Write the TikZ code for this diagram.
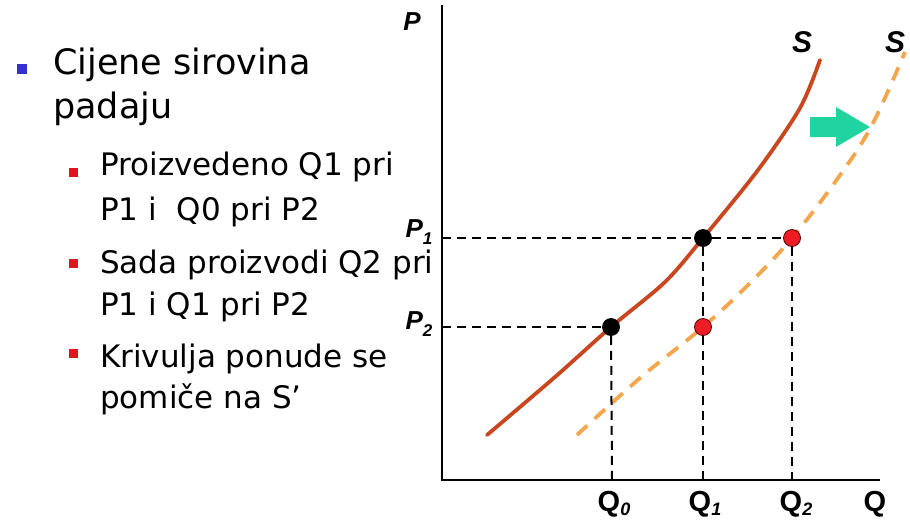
\documentclass[tikz,border=0pt]{standalone}
\usepackage{fontspec}
\setmainfont{DejaVu Sans}
\newfontfamily\axfont{Liberation Sans}
\usepackage{xcolor}
\usepackage{tikz}
\usetikzlibrary{calc,positioning}
\definecolor{supply}{HTML}{C8471E}
\definecolor{shifted}{HTML}{F5A54B}
\definecolor{shiftgreen}{HTML}{1FD49E}
\definecolor{bulletblue}{HTML}{3333CC}
\definecolor{bulletred}{HTML}{E0141E}
\definecolor{dotred}{HTML}{EE1C24}
\newcommand{\axlab}[2]{\axfont\bfseries #1\raisebox{-0.3ex}{\fontsize{18}{18}\selectfont\itshape #2}}
\tikzset{
  axis/.style={line width=2.4pt,black},
  guide/.style={line width=2pt,black,dash pattern=on 9pt off 6pt},
  scurve/.style={line width=3.8pt,supply,line cap=round},
  shcurve/.style={line width=3.8pt,shifted,dash pattern=on 14pt off 10pt},
  dot/.style={circle,draw=black,line width=0.8pt,fill=black,minimum size=17pt,inner sep=0pt},
  reddot/.style={dot,draw=black!70!red,fill=dotred},
  axtext/.style={font={\axfont\bfseries\itshape\fontsize{26}{26}\selectfont},inner sep=1pt},
  qtext/.style={font={\fontsize{29}{29}\selectfont},inner sep=1pt,anchor=base},
  maintext/.style={anchor=base west,inner sep=0pt,font={\fontsize{35}{42}\selectfont}},
  subtext/.style={anchor=base west,inner sep=0pt,font={\fontsize{31}{37}\selectfont}},
  sq/.style={inner sep=0pt,minimum size=#1,fill=bulletred}
}
\begin{document}
\begin{tikzpicture}[x=1pt,y=-1pt]
\useasboundingbox (0,0) rectangle (910,523);
\fill[white] (0,0) rectangle (910,523);
% text on the left
\node[sq=10pt,fill=bulletblue] (b0) at (22,69) {};
\node[maintext] (t1) at (53,74) {Cijene sirovina};
\node[maintext] (t2) at (53,118) {padaju};
\node[sq=9pt] (b1) at (73,172) {};
\node[subtext] (t3) at (100,175) {Proizvedeno Q1 pri};
\node[subtext] (t4) at (100,220) {P1 i\ \ Q0 pri P2};
\node[sq=9pt] (b2) at (73,263) {};
\node[subtext] (t5) at (100,273) {Sada proizvodi Q2 pri};
\node[subtext] (t6) at (100,315) {P1 i Q1 pri P2};
\node[sq=9pt] (b3) at (73,353) {};
\node[subtext] (t7) at (100,367) {Krivulja ponude se};
\node[subtext] (t8) at (100,408) {pomiče na S’};
% axes
\coordinate (O) at (442,480);
\coordinate (ptop) at (442,5);
\coordinate (qend) at (880,480);
\draw[axis] (ptop) -- (O) -- (qend);
\node[axtext] (P) at (412,22) {P};
\coordinate (p1) at (442,238);
\coordinate (p2) at (442,327);
\coordinate (q0) at (612,480);
\coordinate (q1) at (703,480);
\coordinate (q2) at (792,480);
% curves
\draw[shcurve] plot[smooth,tension=0.6] coordinates {(577,435) (640,378) (703,327) (750,283) (792,238) (838,178) (872,125) (905,52)};
\draw[scurve] plot[smooth,tension=0.5] coordinates {(487,435) (555,377) (611,327) (665,282) (703,238) (758,170) (800,108) (820,60)};
\fill[shiftgreen] (810,117) -- (836,117) -- (836,107) -- (870,127) -- (836,147) -- (836,137) -- (810,137) -- cycle;
\node[axtext,font={\axfont\bfseries\itshape\fontsize{30}{30}\selectfont}] (S) at (802,42) {S};
\node[axtext,font={\axfont\bfseries\itshape\fontsize{30}{30}\selectfont}] (S2) at (895,42) {S};
% points
\node[dot] (e1) at (703,238) {};
\node[dot] (e0) at (611,327) {};
\node[reddot] (n2) at (792,238) {};
\node[reddot] (n1) at (703,327) {};
\draw[guide] (p1) -- (e1) -- (n2);
\draw[guide] (p2) -- (e0);
\draw[guide] (e0) -- (q0);
\draw[guide] (e1) -- (n1) -- (q1);
\draw[guide] (n2) -- (q2);
\node[axtext] (lp1) at (419,232) {P\raisebox{-0.45ex}{\fontsize{17}{17}\selectfont 1}};
\node[axtext] (lp2) at (419,324) {P\raisebox{-0.45ex}{\fontsize{17}{17}\selectfont 2}};
% quantity labels
\node[qtext] (lq0) at (614,511) {\axlab{Q}{0}};
\node[qtext] (lq1) at (705,511) {\axlab{Q}{1}};
\node[qtext] (lq2) at (796,511) {\axlab{Q}{2}};
\node[qtext] (lq) at (875,511) {\axlab{Q}{}};
\end{tikzpicture}
\end{document}
